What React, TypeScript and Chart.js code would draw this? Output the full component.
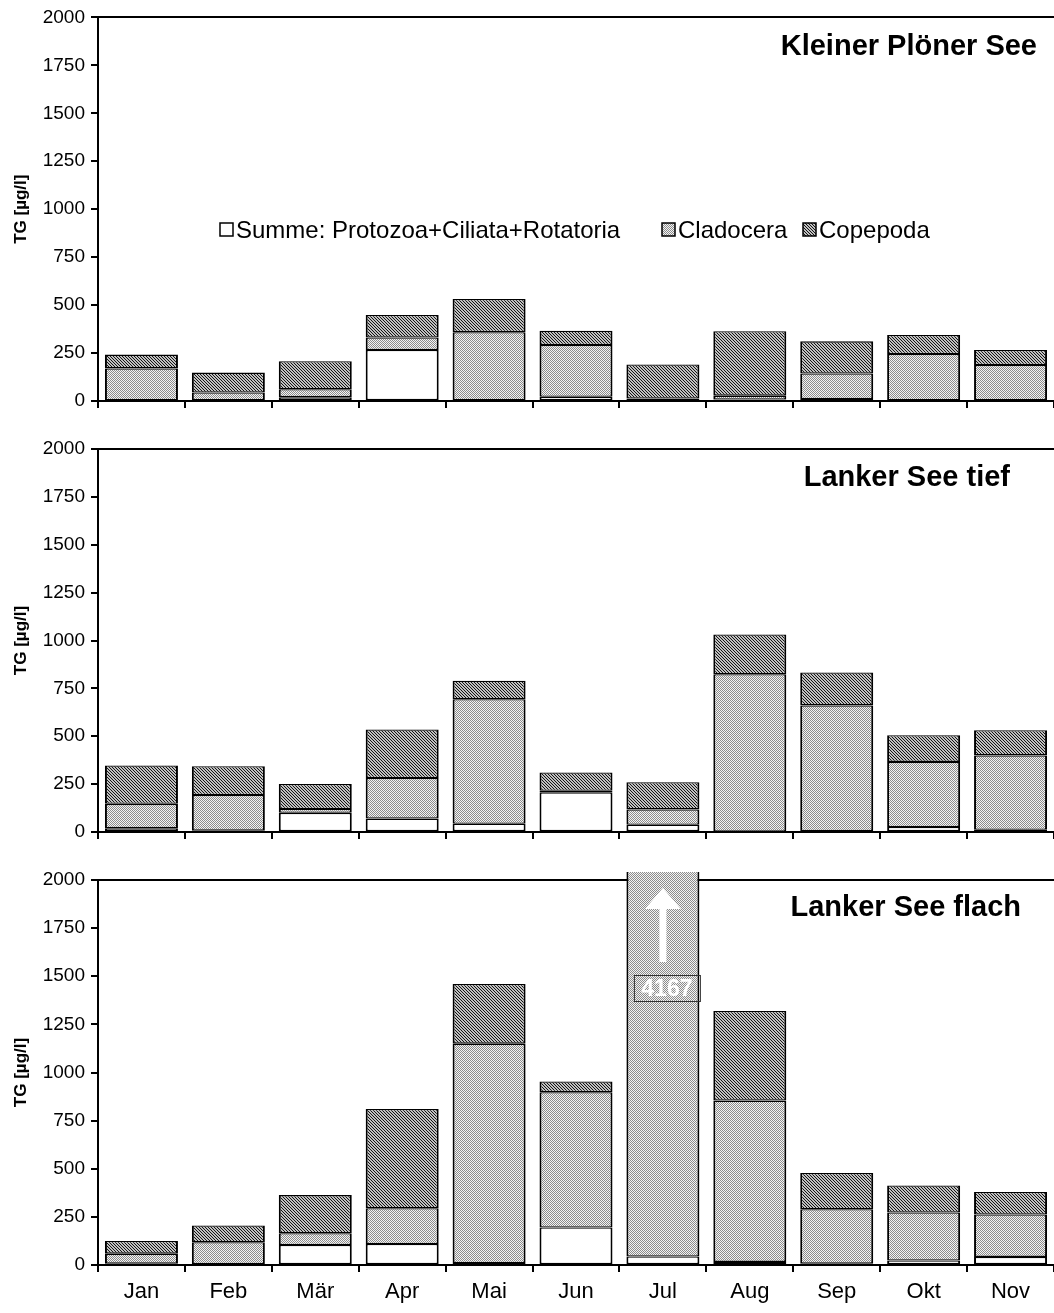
import React, { useEffect, useRef } from 'react';
import { Chart, registerables } from 'chart.js';

Chart.register(...registerables);

// ---------- data ----------
const months = ['Jan', 'Feb', 'Mär', 'Apr', 'Mai', 'Jun', 'Jul', 'Aug', 'Sep', 'Okt', 'Nov'];
const seriesNames = ['Summe: Protozoa+Ciliata+Rotatoria', 'Cladocera', 'Copepoda'];
const yTickMax = 2000;
const yTickStep = 250;
const yAxisTitle = 'TG [µg/l]';

const panelTitles = ['Kleiner Plöner See', 'Lanker See tief', 'Lanker See flach'];

// Kleiner Plöner See
const protozoaKPS = [3, 3, 20, 266, 3, 22, 10, 8, 10, 3, 3];
const cladoceraKPS = [167, 41, 41, 65, 356, 270, 3, 20, 133, 242, 185];
const copepodaKPS = [72, 104, 146, 118, 173, 74, 177, 336, 168, 99, 78];

// Lanker See tief
const protozoaLST = [20, 7, 100, 70, 43, 207, 38, 3, 5, 26, 12];
const cladoceraLST = [127, 186, 20, 212, 650, 8, 80, 821, 656, 340, 388];
const copepodaLST = [200, 150, 131, 253, 97, 96, 142, 207, 172, 139, 131];

// Lanker See flach
const protozoaLSF = [7, 5, 104, 109, 10, 195, 44, 16, 7, 23, 42];
const cladoceraLSF = [52, 113, 61, 186, 1140, 703, 4123, 838, 283, 250, 220];
const copepodaLSF = [66, 87, 198, 516, 310, 55, 0, 466, 188, 140, 117];

// ---------- layout / style ----------
const FONT = "'Liberation Sans', Arial, Helvetica, sans-serif";
const W = 1054;

type PanelCfg = {
  title: string;
  protozoa: number[];
  cladocera: number[];
  copepoda: number[];
  top: number;
  height: number;
  padTop: number;
  xAxisHeight: number;
  showLabels: boolean;
  showLegend: boolean;
  titleRight: number;
  titleY: number;
};

const panels: PanelCfg[] = [
  { title: panelTitles[0], protozoa: protozoaKPS, cladocera: cladoceraKPS, copepoda: copepodaKPS,
    top: 0, height: 430, padTop: 17, xAxisHeight: 29, showLabels: false, showLegend: true, titleRight: 1037, titleY: 47 },
  { title: panelTitles[1], protozoa: protozoaLST, cladocera: cladoceraLST, copepoda: copepodaLST,
    top: 430, height: 430, padTop: 19, xAxisHeight: 28, showLabels: false, showLegend: false, titleRight: 1010, titleY: 48 },
  { title: panelTitles[2], protozoa: protozoaLSF, cladocera: cladoceraLSF, copepoda: copepodaLSF,
    top: 860, height: 453, padTop: 20, xAxisHeight: 48, showLabels: true, showLegend: false, titleRight: 1021, titleY: 48 },
];

function makeStipple(): CanvasPattern {
  const c = document.createElement('canvas');
  c.width = 2; c.height = 2;
  const x = c.getContext('2d')!;
  x.fillStyle = '#f4f4f4';
  x.fillRect(0, 0, 2, 2);
  x.fillStyle = '#8c8c8c';
  x.fillRect(0, 0, 1, 1);
  x.fillRect(1, 1, 1, 1);
  return x.createPattern(c, 'repeat')!;
}

function makeHatch(): CanvasPattern {
  const c = document.createElement('canvas');
  c.width = 3; c.height = 3;
  const x = c.getContext('2d')!;
  x.fillStyle = '#c0c0c0';
  x.fillRect(0, 0, 3, 3);
  x.fillStyle = '#141414';
  for (let i = 0; i < 3; i++) x.fillRect(i, i, 1, 1);
  return x.createPattern(c, 'repeat')!;
}

function Panel({ cfg }: { cfg: PanelCfg }) {
  const ref = useRef<HTMLCanvasElement>(null);

  useEffect(() => {
    const stipple = makeStipple();
    const hatch = makeHatch();
    const fills: (string | CanvasPattern)[] = ['#ffffff', stipple, hatch];

    const barCommon = {
      borderColor: '#000',
      borderWidth: { top: 1.3, bottom: 1.3, left: 2, right: 2 },
      borderSkipped: false as const,
      inflateAmount: 0,
      barPercentage: 0.84,
      categoryPercentage: 1,
      clip: { left: 0, top: 8, right: 0, bottom: 0 },
    };

    const overlay = {
      id: 'overlay',
      afterDatasetsDraw(chart: any) {
        const { ctx, chartArea, scales } = chart;
        const xs = scales.x;
        months.forEach((_, i) => {
          const total = cfg.protozoa[i] + cfg.cladocera[i] + cfg.copepoda[i];
          if (total <= yTickMax) return;
          const cx = xs.getPixelForValue(i);
          const t = chartArea.top;
          ctx.save();
          ctx.fillStyle = '#fff';
          ctx.beginPath();
          ctx.moveTo(cx, t + 8);
          ctx.lineTo(cx + 18, t + 29);
          ctx.lineTo(cx + 3.5, t + 29);
          ctx.lineTo(cx + 3.5, t + 82);
          ctx.lineTo(cx - 3.5, t + 82);
          ctx.lineTo(cx - 3.5, t + 29);
          ctx.lineTo(cx - 18, t + 29);
          ctx.closePath();
          ctx.fill();
          ctx.strokeStyle = '#333';
          ctx.lineWidth = 1;
          ctx.strokeRect(cx - 28.5, t + 95.5, 66, 26);
          ctx.fillStyle = '#fff';
          ctx.font = `bold 23px ${FONT}`;
          ctx.textAlign = 'center';
          ctx.textBaseline = 'middle';
          ctx.fillText(String(total), cx + 4, t + 110);
          ctx.restore();
        });
      },
      afterDraw(chart: any) {
        const { ctx } = chart;
        ctx.save();
        ctx.fillStyle = '#000';
        ctx.font = `bold 29px ${FONT}`;
        ctx.textAlign = 'right';
        ctx.textBaseline = 'middle';
        ctx.fillText(cfg.title, cfg.titleRight, cfg.titleY);
        if (cfg.showLegend) {
          const boxX = [220, 662, 803];
          const cy = 230;
          ctx.font = `24px ${FONT}`;
          ctx.textAlign = 'left';
          seriesNames.forEach((name, k) => {
            ctx.fillStyle = fills[k];
            ctx.fillRect(boxX[k], cy - 7, 13, 13);
            ctx.strokeStyle = '#000';
            ctx.lineWidth = 1.5;
            ctx.strokeRect(boxX[k], cy - 7, 13, 13);
            ctx.fillStyle = '#000';
            ctx.fillText(name, boxX[k] + 16, cy + 1);
          });
        }
        ctx.restore();
      },
    };

    const chart = new Chart(ref.current!, {
      type: 'bar',
      data: {
        labels: months,
        datasets: [
          { label: seriesNames[0], data: cfg.protozoa, backgroundColor: fills[0], ...barCommon },
          { label: seriesNames[1], data: cfg.cladocera, backgroundColor: fills[1], ...barCommon },
          { label: seriesNames[2], data: cfg.copepoda, backgroundColor: fills[2], ...barCommon },
        ] as any,
      },
      options: {
        animation: false,
        responsive: false,
        layout: { padding: { top: cfg.padTop, left: 0, right: 0, bottom: 0 } },
        plugins: { legend: { display: false }, tooltip: { enabled: false } },
        scales: {
          x: {
            stacked: true,
            offset: true,
            afterFit: (s: any) => { s.height = cfg.xAxisHeight; },
            grid: {
              display: true,
              offset: true,
              drawOnChartArea: false,
              drawTicks: true,
              tickLength: 7,
              color: '#000',
              tickColor: '#000',
              lineWidth: 2,
            },
            border: { display: true, color: '#000', width: 2 },
            ticks: {
              display: cfg.showLabels,
              color: '#000',
              font: { family: FONT, size: 22 },
              padding: 7,
              maxRotation: 0,
              autoSkip: false,
            },
          },
          y: {
            stacked: true,
            min: 0,
            max: yTickMax,
            afterFit: (s: any) => { s.width = 98; },
            grid: {
              drawOnChartArea: true,
              drawTicks: true,
              tickLength: 7,
              lineWidth: 2,
              tickColor: '#000',
              color: (c: any) => (c.tick && c.tick.value === yTickMax ? '#000' : 'rgba(0,0,0,0)'),
            },
            border: { display: true, color: '#000', width: 2 },
            ticks: {
              stepSize: yTickStep,
              color: '#000',
              font: { family: FONT, size: 19 },
              padding: 6,
              callback: (v: any) => String(v),
            },
            title: {
              display: true,
              text: yAxisTitle,
              color: '#000',
              font: { family: FONT, size: 17, weight: 'bold' },
              padding: { top: 11, bottom: 0 },
            },
          },
        },
      },
      plugins: [overlay],
    });
    return () => chart.destroy();
  }, []);

  return (
    <canvas
      ref={ref}
      width={W}
      height={cfg.height}
      style={{ position: 'absolute', left: 0, top: cfg.top, width: W, height: cfg.height, display: 'block' }}
    />
  );
}

export default function App() {
  return (
    <div style={{ position: 'absolute', left: 0, top: 0, width: W, height: 1313, background: '#fff', overflow: 'hidden' }}>
      {panels.map((p, i) => (
        <Panel key={i} cfg={p} />
      ))}
    </div>
  );
}
